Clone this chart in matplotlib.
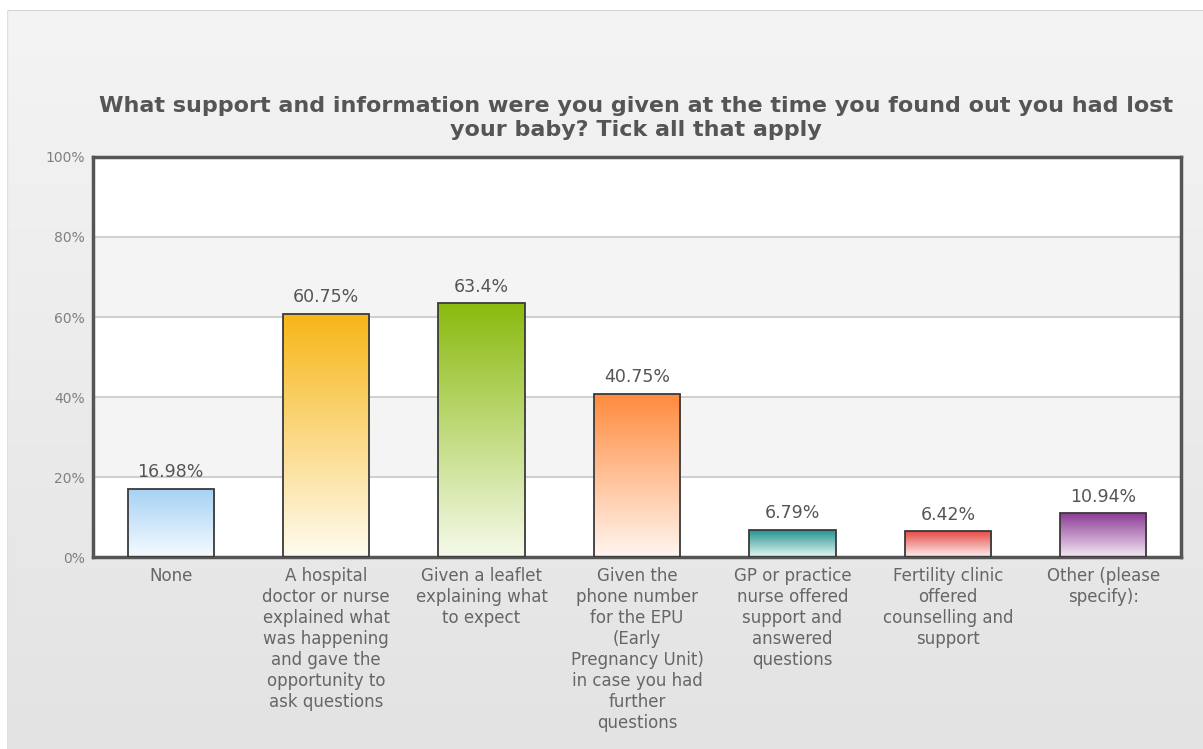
import matplotlib
matplotlib.use('Agg')
import matplotlib.pyplot as plt
import numpy as np
from matplotlib.colors import LinearSegmentedColormap

plt.rcParams['font.family'] = ['DejaVu Sans']

categories = [
    "None",
    "A hospital\ndoctor or nurse\nexplained what\nwas happening\nand gave the\nopportunity to\nask questions",
    "Given a leaflet\nexplaining what\nto expect",
    "Given the\nphone number\nfor the EPU\n(Early\nPregnancy Unit)\nin case you had\nfurther\nquestions",
    "GP or practice\nnurse offered\nsupport and\nanswered\nquestions",
    "Fertility clinic\noffered\ncounselling and\nsupport",
    "Other (please\nspecify):",
]
values = [16.98, 60.75, 63.4, 40.75, 6.79, 6.42, 10.94]
value_labels = ["16.98%", "60.75%", "63.4%", "40.75%", "6.79%", "6.42%", "10.94%"]
top_colors = ["#a6d2f4", "#f7b617", "#8aba0e", "#ff8a3d", "#1b918c", "#e64b46", "#8e3b95"]
bottom_colors = ["#f6fbff", "#fffbf0", "#f5faea", "#fff6f0", "#e8f7f5", "#fdf0f0", "#f3e9f5"]
y_ticks = [0, 20, 40, 60, 80, 100]
title = "What support and information were you given at the time you found out you had lost\nyour baby? Tick all that apply"

fig = plt.figure(figsize=(12.03, 7.49), dpi=100)
fig.patch.set_facecolor("white")

# background panel with vertical gradient
bg = fig.add_axes([0.006, 0, 0.994, 0.986], zorder=-10)
grad = np.linspace(0, 1, 256).reshape(-1, 1)
bg_cmap = LinearSegmentedColormap.from_list("bg", ["#e3e3e3", "#f4f4f4"])
bg.imshow(grad, aspect="auto", cmap=bg_cmap, origin="lower", extent=[0, 1, 0, 1])
bg.set_xlim(0, 1)
bg.set_ylim(0, 1)
bg.set_xticks([])
bg.set_yticks([])
for s in bg.spines.values():
    s.set_visible(False)
bg.axhline(1, color="#d6d6d6", lw=1.5)
bg.axvline(0, color="#e0e0e0", lw=1)

ax = fig.add_axes([0.0773, 0.2563, 0.9044, 0.5341])
ax.set_facecolor("white")
x = np.arange(len(categories))

# alternating bands
for i in range(len(y_ticks) - 1):
    if i % 2 == 1:
        ax.axhspan(y_ticks[i], y_ticks[i + 1], color="#f4f4f4", zorder=0)
for t in y_ticks[1:-1]:
    ax.axhline(t, color="#c9c9c9", lw=1.2, zorder=1)

bars = ax.bar(x, values, width=0.555, facecolor="none", edgecolor="#3a3a3a", linewidth=1.3, zorder=3)
for bar, c_top, c_bot, lab in zip(bars, top_colors, bottom_colors, value_labels):
    cmap = LinearSegmentedColormap.from_list("g", [c_bot, c_top])
    bx, bw, bh = bar.get_x(), bar.get_width(), bar.get_height()
    im = ax.imshow(grad, aspect="auto", cmap=cmap, origin="lower",
                   extent=[bx, bx + bw, 0, bh], zorder=2)
    im.set_clip_path(bar)
    ax.annotate(lab, (bx + bw / 2, bh), xytext=(0, 12), textcoords="offset points",
                ha="center", va="center", fontsize=12.5, color="#555555")

ax.set_xlim(-0.5, len(categories) - 0.5)
ax.set_ylim(0, 100)
ax.set_yticks(y_ticks)
ax.set_yticklabels([f"{t}%" for t in y_ticks], fontsize=10, color="#808080")
ax.set_xticks(x)
ax.set_xticklabels(categories, fontsize=12, color="#666666", linespacing=1.22, va="top")
ax.tick_params(axis="both", length=0)
ax.tick_params(axis="x", pad=7)
ax.tick_params(axis="y", pad=6)
for s in ax.spines.values():
    s.set_color("#555555")
    s.set_linewidth(2.5)

fig.text(0.5287, 0.8425, title, ha="center", va="center", fontsize=16,
         fontweight="bold", color="#555555", linespacing=1.3)

fig.savefig("out.png", dpi=100)
